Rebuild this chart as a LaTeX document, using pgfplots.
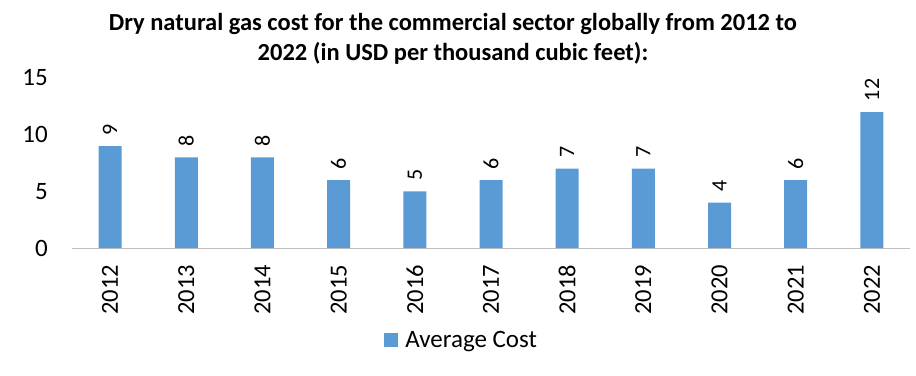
\documentclass[border=0pt]{standalone}
\usepackage{pgfplots}
\pgfplotsset{compat=1.18}
\usepackage{fontspec}
\setmainfont{Carlito}
\definecolor{barblue}{HTML}{5B9BD5}
\begin{document}
\begin{tikzpicture}[x=1pt,y=1pt]
\useasboundingbox (0,0) rectangle (916,-375);
\node[font=\fontsize{24.5}{30}\selectfont\bfseries, align=center] at (453,-39) {Dry natural gas cost for the commercial sector globally from 2012 to\\2022 (in USD per thousand cubic feet):};
\begin{axis}[
  at={(72pt,-248pt)}, anchor=south west,
  scale only axis, width=838pt, height=170pt,
  xmin=-0.5, xmax=10.5, ymin=0, ymax=15,
  axis x line=bottom, axis y line=left,
  x axis line style={draw=black!25, -},
  y axis line style={draw=none},
  major tick length=0pt,
  ytick={0,5,10,15},
  xtick=data,
  xticklabels={2012,2013,2014,2015,2016,2017,2018,2019,2020,2021,2022},
  x tick label style={rotate=90, anchor=east, font=\fontsize{24.5}{24}\selectfont, inner sep=0pt, outer sep=0pt},
  xticklabel shift=17pt,
  y tick label style={font=\fontsize{25}{24}\selectfont, inner sep=0pt},
  yticklabel shift=24pt,
  /pgf/number format/assume math mode=true,
  ybar, bar width=23pt,
  nodes near coords,
  every node near coord/.append style={rotate=90, anchor=west, font=\fontsize{22}{21}\selectfont, black, inner sep=0pt, outer xsep=11pt},
  legend style={at={(0.465,-0.541)}, anchor=center, draw=none, font=\fontsize{25}{24}\selectfont, inner sep=0pt},
  legend image code/.code={\fill[barblue] (0pt,-7pt) rectangle (14pt,7pt);},
  legend cell align=left,
  legend style={/tikz/every even column/.append style={column sep=0pt}},
  clip=false,
]
\addplot[fill=barblue, draw=none] coordinates {(0,9) (1,8) (2,8) (3,6) (4,5) (5,6) (6,7) (7,7) (8,4) (9,6) (10,12)};
\addlegendentry{\hspace{5pt}Average Cost}
\end{axis}
\end{tikzpicture}
\end{document}
